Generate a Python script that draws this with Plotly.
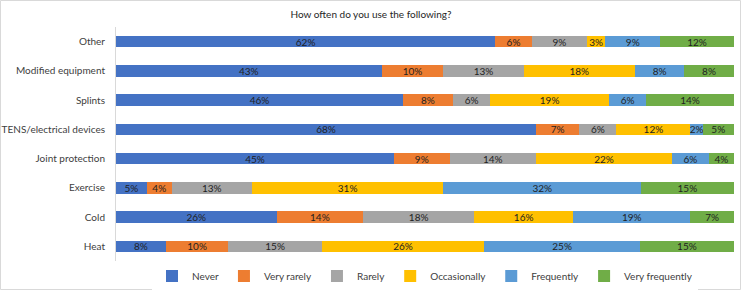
import plotly.graph_objects as go

categories = ["Other", "Modified equipment", "Splints", "TENS/electrical devices",
              "Joint protection", "Exercise", "Cold", "Heat"]
series_names = ["Never", "Very rarely", "Rarely", "Occasionally", "Frequently", "Very frequently"]
never = [62, 43, 46, 68, 45, 5, 26, 8]
very_rarely = [6, 10, 8, 7, 9, 4, 14, 10]
rarely = [9, 13, 6, 6, 14, 13, 18, 15]
occasionally = [3, 18, 19, 12, 22, 31, 16, 26]
frequently = [9, 8, 6, 2, 6, 32, 19, 25]
very_frequently = [12, 8, 14, 5, 4, 15, 7, 15]
colors = ["#4472C4", "#ED7D31", "#A5A5A5", "#FFC000", "#5B9BD5", "#70AD47"]

series_values = [never, very_rarely, rarely, occasionally, frequently, very_frequently]

FONT = "Lato"
fig = go.Figure()
for name, vals, col in zip(series_names, series_values, colors):
    fig.add_trace(go.Bar(
        y=categories, x=vals, name=name, orientation="h",
        marker=dict(color=col, line=dict(width=0)),
        text=[f"{v}%" for v in vals], textposition="inside",
        insidetextanchor="middle", textangle=0,
        textfont=dict(family=FONT, size=10, color="#1f1f1f"),
        constraintext="none", cliponaxis=False,
    ))

W, H = 742, 291
L, R, T, B = 116, 8, 27, 30
pw, ph = W - L - R, H - T - B

fig.update_layout(
    width=W, height=H,
    margin=dict(l=L, r=R, t=T, b=B, pad=0, autoexpand=False),
    barmode="stack", barnorm="percent", bargap=0.6,
    paper_bgcolor="white", plot_bgcolor="white",
    font=dict(family=FONT, size=10, color="#404040"),
    uniformtext=dict(minsize=10, mode="show"),
    title=dict(text="How often do you use the following?", x=0.5, xref="container",
               xanchor="center", y=1 - 14 / H, yanchor="middle",
               font=dict(family=FONT, size=10, color="#262626")),
    xaxis=dict(range=[0, 100.05], visible=False, fixedrange=True),
    yaxis=dict(autorange="reversed", showline=True, linecolor="#D9D9D9", linewidth=1,
               showgrid=False, ticks="outside", ticklen=8, tickcolor="rgba(0,0,0,0)",
               automargin=False, fixedrange=True,
               tickfont=dict(family=FONT, size=10, color="#404040")),
    legend=dict(orientation="h", x=0.5, xanchor="center", y=-(276 - (H - B)) / ph,
                yanchor="middle", traceorder="normal",
                font=dict(family=FONT, size=10, color="#404040")),
    showlegend=True,
)

# outer chart border
fig.add_shape(type="rect", xref="paper", yref="paper",
              x0=-(L - 0.5) / pw, x1=1 + (R - 1.5) / pw,
              y0=-(B - 1.5) / ph, y1=1 + (T - 0.5) / ph,
              line=dict(color="#D9D9D9", width=1), fillcolor="rgba(0,0,0,0)", layer="below")

fig.write_html("out.html", config={"displayModeBar": False},
               post_script="document.body.style.margin='0';document.body.style.padding='0';")
